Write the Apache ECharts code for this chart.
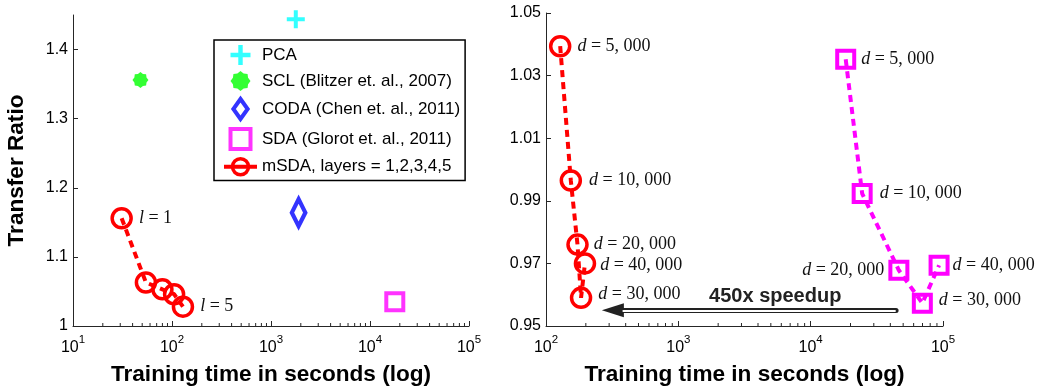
<!DOCTYPE html>
<html>
<head>
<meta charset="utf-8">
<script src="https://cdn.jsdelivr.net/npm/echarts@6/dist/echarts.min.js"></script>
<style>
html, body { margin: 0; padding: 0; background: #fff; }
#main { width: 1039px; height: 390px; }
</style>
</head>
<body>
<div id="main"></div>
<script>
// 左图：各方法训练时间 vs 迁移比
var pcaPoint = [[1780, 1.444]];
var sclPoint = [[48, 1.356]];
var codaPoint = [[1900, 1.164]];
var sdaPoint = [[17800, 1.035]];
var msdaTime = [31, 54.5, 80, 105, 129];
var msdaRatio = [1.156, 1.063, 1.053, 1.046, 1.028];
var layerLabels = ['1', '', '', '', '5'];

// 右图：不同特征维度 d
var dimLabels = ['5, 000', '10, 000', '20, 000', '30, 000', '40, 000'];
var msdaDimTime = [128, 154, 173, 184, 197];
var msdaDimRatio = [1.0394, 0.9965, 0.976, 0.959, 0.970];
var sdaDimTime = [18400, 24500, 46400, 69800, 93400];
var sdaDimRatio = [1.0352, 0.9923, 0.9678, 0.9573, 0.9694];

var leftYTicks = [1, 1.1, 1.2, 1.3, 1.4];
var rightYTicks = [0.95, 0.97, 0.99, 1.01, 1.03, 1.05];
var seriesNames = ['PCA', 'SCL (Blitzer et. al., 2007)', 'CODA (Chen et. al., 2011)',
	'SDA (Glorot et. al., 2011)', 'mSDA, layers = 1,2,3,4,5'];
var speedupText = '450x speedup';

var SANS = 'Liberation Sans, Arial, Helvetica, sans-serif';
var SERIF = 'Liberation Serif, Times New Roman, serif';
var AXIS_COLOR = '#262626';

var myChart = echarts.init(document.getElementById('main'));

function starPath(n, r1, r2) {
	var s = 'path://';
	for (var i = 0; i < 2 * n; i++) {
		var r = i % 2 ? r2 : r1;
		var a = Math.PI * i / n;
		s += (i ? 'L' : 'M') + (r * Math.sin(a)).toFixed(2) + ',' + (-r * Math.cos(a)).toFixed(2);
	}
	return s + 'Z';
}

// 对数轴的次刻度 2..9 x 10^k
function minorTicks(lo, hi, yMin) {
	var t = [];
	for (var e = lo; e < hi; e++) {
		for (var m = 2; m <= 9; m++) t.push([m * Math.pow(10, e), yMin]);
	}
	return t;
}

function minorTickSeries(idx, lo, hi, yMin) {
	return {
		type: 'custom', xAxisIndex: idx, yAxisIndex: idx, silent: true, clip: false, z: 1,
		data: minorTicks(lo, hi, yMin),
		renderItem: function(params, api) {
			var p = api.coord([api.value(0), api.value(1)]);
			return { type: 'line', shape: { x1: p[0], y1: p[1], x2: p[0], y2: p[1] - 3 },
				style: { stroke: AXIS_COLOR, lineWidth: 1 } };
		}
	};
}

function logAxis(idx, min, max) {
	return {
		type: 'log', logBase: 10, gridIndex: idx, min: min, max: max,
		name: 'Training time in seconds (log)', nameLocation: 'middle', nameGap: 37,
		nameTextStyle: { fontFamily: SANS, fontWeight: 'bold', fontSize: 22.6, color: '#000' },
		axisLine: { lineStyle: { color: AXIS_COLOR, width: 1 } },
		axisTick: { inside: true, length: 5, lineStyle: { color: AXIS_COLOR } },
		splitLine: { show: false },
		axisLabel: {
			margin: 8,
			formatter: function(v) {
				var e = Math.round(Math.log(v) / Math.LN10);
				return '{b|10}{s|' + e + '}';
			},
			rich: {
				b: { fontSize: 16, fontFamily: SANS, color: '#000', verticalAlign: 'bottom', lineHeight: 22 },
				s: { fontSize: 11.5, fontFamily: SANS, color: '#000', verticalAlign: 'top', lineHeight: 10 }
			}
		}
	};
}

function valueAxis(idx, min, max, ticks, fmt, name) {
	return {
		type: 'value', gridIndex: idx, min: min, max: max,
		name: name || '', nameLocation: 'middle', nameGap: 45,
		nameTextStyle: { fontFamily: SANS, fontWeight: 'bold', fontSize: 22.6, color: '#000' },
		axisLine: { show: true, lineStyle: { color: AXIS_COLOR, width: 1 } },
		axisTick: { show: true, inside: true, length: 5, customValues: ticks, lineStyle: { color: AXIS_COLOR } },
		splitLine: { show: false },
		axisLabel: { customValues: ticks, margin: 5, fontSize: 16, fontFamily: SANS, color: '#000', formatter: fmt }
	};
}

function mathLabel(v, rest) {
	return '{v|' + v + '}{t| = ' + rest + '}';
}
var mathRich = {
	v: { fontFamily: SERIF, fontStyle: 'italic', fontSize: 18, color: '#111' },
	t: { fontFamily: SERIF, fontSize: 18, color: '#111' }
};

// 标签位置微调
var msdaDimLabelPos = [['right', 6, 0], ['right', 7, 0], ['right', 5, 0], ['right', 6, -4], ['right', 4, 2]];
var sdaDimLabelPos = [['right', 5, 0], ['right', 7, 0], ['left', 4, 0], ['right', 6, -3], ['right', 3, 0]];

function dimData(xs, ys, pos) {
	return xs.map(function(x, i) {
		return {
			value: [x, ys[i]],
			label: { show: true, position: pos[i][0], distance: pos[i][1], offset: [0, pos[i][2]],
				formatter: mathLabel('d', dimLabels[i]), rich: mathRich }
		};
	});
}

var layerData = msdaTime.map(function(x, i) {
	var item = { value: [x, msdaRatio[i]] };
	if (layerLabels[i]) {
		item.label = { show: true, position: 'right', distance: 6,
			formatter: mathLabel('l', layerLabels[i]), rich: mathRich };
	}
	return item;
});

var redLine = { color: '#ff0000', width: 4, type: [7, 5] };
var magentaLine = { color: '#ff00ff', width: 4, type: [7, 5] };
var ringStyle = { color: 'rgba(255,255,255,0)', borderColor: '#ff0000', borderWidth: 3.5 };
var squareStyle = { color: 'rgba(255,255,255,0)', borderColor: '#ff00ff', borderWidth: 4 };
var squarePath = 'path://M0,0H10V10H0Z';
var diamondPath = 'path://M10,0L20,14L10,28L0,14Z';

var option = {
	animation: false,
	backgroundColor: '#fff',
	grid: [
		{ left: 73, top: 15, width: 396, height: 311, outerBoundsMode: 'none' },
		{ left: 546, top: 13, width: 397, height: 313, outerBoundsMode: 'none' }
	],
	xAxis: [logAxis(0, 10, 100000), logAxis(1, 100, 100000)],
	yAxis: [
		valueAxis(0, 1, 1.45, leftYTicks, null, 'Transfer Ratio'),
		valueAxis(1, 0.95, 1.05, rightYTicks, function(v) { return v.toFixed(2); })
	],
	legend: {
		data: [
			{ name: seriesNames[0] },
			{ name: seriesNames[1] },
			{ name: seriesNames[2], itemStyle: { borderWidth: 4 } },
			{ name: seriesNames[3], itemStyle: { borderWidth: 4 } },
			{ name: seriesNames[4], itemStyle: { borderWidth: 3.5 }, lineStyle: { width: 4, type: 'solid' } }
		],
		orient: 'vertical', left: 214, top: 40,
		padding: [5, 5, 4, 8], itemGap: 6, itemWidth: 33, itemHeight: 20,
		borderColor: '#000', borderWidth: 1.5, backgroundColor: '#fff',
		selectedMode: false, symbolKeepAspect: true,
		textStyle: { fontFamily: SANS, fontSize: 17, color: '#000' }
	},
	series: [
		{
			name: seriesNames[0], type: 'scatter', xAxisIndex: 0, yAxisIndex: 0,
			symbol: 'path://M7,0H11V7H18V11H11V18H7V11H0V7H7Z', symbolSize: 18,
			itemStyle: { color: '#00ffff' }, data: pcaPoint
		},
		{
			name: seriesNames[1], type: 'scatter', xAxisIndex: 0, yAxisIndex: 0,
			symbol: starPath(8, 10, 8.2), symbolSize: 16,
			itemStyle: { color: '#00ff00' }, data: sclPoint
		},
		{
			name: seriesNames[2], type: 'scatter', xAxisIndex: 0, yAxisIndex: 0,
			symbol: diamondPath, symbolSize: [19, 27], symbolKeepAspect: true,
			itemStyle: { color: 'rgba(255,255,255,0)', borderColor: '#0000ff', borderWidth: 4.5 },
			data: codaPoint
		},
		{
			name: seriesNames[3], type: 'scatter', xAxisIndex: 0, yAxisIndex: 0,
			symbol: squarePath, symbolSize: 17, symbolKeepAspect: true,
			itemStyle: squareStyle, data: sdaPoint
		},
		{
			name: seriesNames[4], type: 'line', xAxisIndex: 0, yAxisIndex: 0,
			symbol: 'circle', symbolSize: 19, showAllSymbol: true,
			lineStyle: redLine, itemStyle: ringStyle, data: layerData
		},
		{
			name: 'mSDA d', type: 'line', xAxisIndex: 1, yAxisIndex: 1,
			symbol: 'circle', symbolSize: 19, showAllSymbol: true,
			lineStyle: redLine, itemStyle: ringStyle,
			data: dimData(msdaDimTime, msdaDimRatio, msdaDimLabelPos)
		},
		{
			name: 'SDA d', type: 'line', xAxisIndex: 1, yAxisIndex: 1,
			symbol: squarePath, symbolSize: 17, showAllSymbol: true,
			lineStyle: magentaLine, itemStyle: squareStyle,
			data: dimData(sdaDimTime, sdaDimRatio, sdaDimLabelPos),
			markLine: {
				silent: true, animation: false, label: { show: false },
				symbol: ['none', 'none'],
				data: [
					[
						{ coord: [44200, 0.955], symbol: 'none',
							lineStyle: { color: '#222', width: 5, type: 'solid', cap: 'round' } },
						{ coord: [320, 0.955], symbol: 'triangle', symbolSize: [14, 22] }
					],
					[
						{ coord: [43300, 0.955], symbol: 'none',
							lineStyle: { color: '#fff', width: 2.2, type: 'solid', cap: 'round' } },
						{ coord: [385, 0.955], symbol: 'none' }
					]
				]
			},
			markPoint: {
				silent: true, symbol: 'circle', symbolSize: 0,
				data: [{ coord: [5400, 0.9594] }],
				label: { show: true, position: 'inside', formatter: speedupText,
					fontFamily: SANS, fontWeight: 'bold', fontSize: 20, color: '#222' }
			}
		},
		minorTickSeries(0, 1, 5, 1),
		minorTickSeries(1, 2, 5, 0.95)
	]
};
myChart.setOption(option);
window.onresize = myChart.resize;
</script>
</body>
</html>
